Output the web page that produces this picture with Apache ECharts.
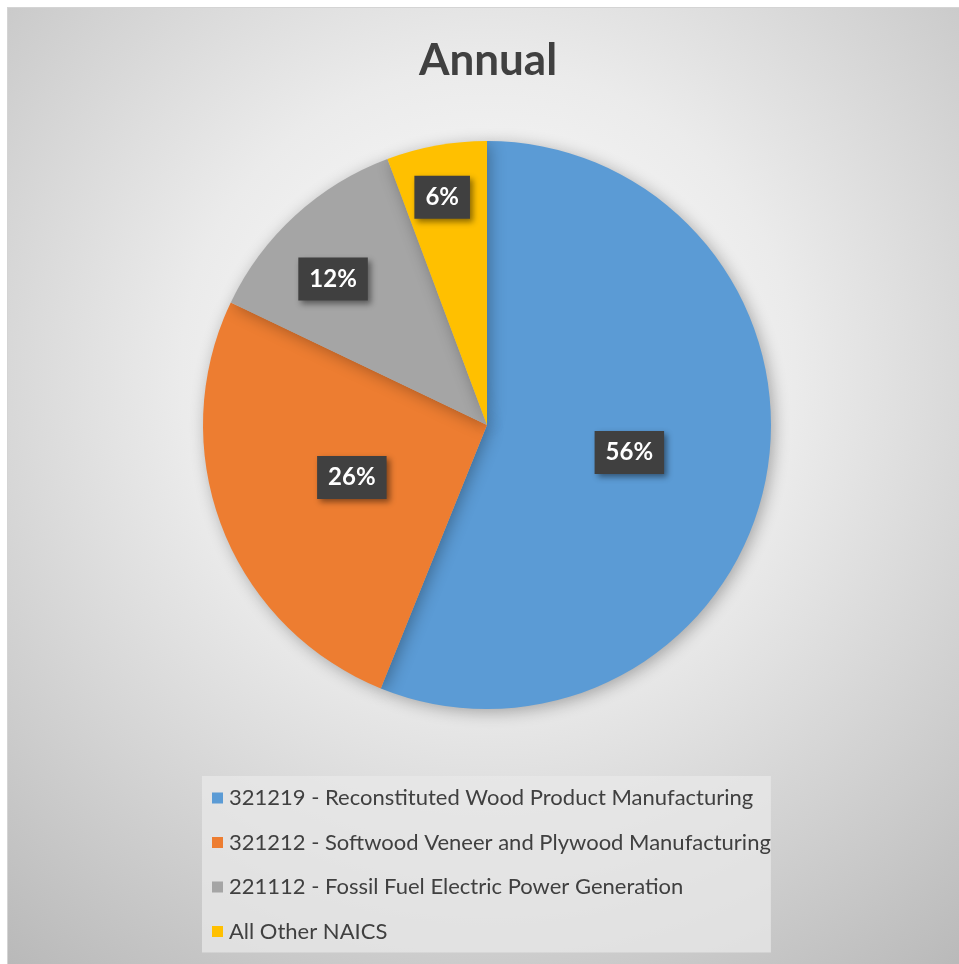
<!DOCTYPE html>
<html>
<head>
<meta charset="utf-8">
<script src="https://cdn.jsdelivr.net/npm/echarts@6/dist/echarts.min.js"></script>
<style>
  html, body { margin: 0; padding: 0; background: #fff; }
  #chart {
    position: absolute;
    left: 7px;
    top: 7px;
    width: 960px;
    height: 965px;
    border-left: 1px solid #d4d4d4;
    border-top: 1px solid #d4d4d4;
  }
</style>
</head>
<body>
<div id="chart"></div>
<script>
const categories = [
  "321219 - Reconstituted Wood Product Manufacturing",
  "321212 - Softwood Veneer and Plywood Manufacturing",
  "221112 - Fossil Fuel Electric Power Generation",
  "All Other NAICS",
];
const shares = [56.1, 26.0, 12.2, 5.7];
const colors = ["#5b9bd5", "#ed7d31", "#a5a5a5", "#ffc000"];
// small slices have their labels pushed outward, like Excel's best fit
const labelOffsets = [null, null, [-56, -39], [-19, -85]];

const chart = echarts.init(document.getElementById("chart"));

const pieData = categories.map((name, i) => {
  const item = { name: name, value: shares[i], itemStyle: { color: colors[i] } };
  if (labelOffsets[i]) {
    item.label = { offset: labelOffsets[i] };
  }
  return item;
});

const option = {
  backgroundColor: new echarts.graphic.RadialGradient(0.5, 0.38, 0.8, [
    { offset: 0, color: "#ffffff" },
    { offset: 0.4, color: "#ebebeb" },
    { offset: 1, color: "#b8b8b8" },
  ]),
  animation: false,
  title: {
    text: "Annual",
    left: "center",
    top: 26,
    textStyle: {
      fontFamily: "Lato",
      fontWeight: "bold",
      fontSize: 44,
      color: "#404040",
    },
  },
  legend: {
    orient: "vertical",
    left: 194,
    top: 768,
    backgroundColor: "rgba(232,232,232,0.75)",
    padding: [11, 0, 10, 10],
    itemWidth: 11,
    itemHeight: 11,
    itemGap: 22.5,
    icon: "rect",
    selectedMode: false,
    textStyle: {
      fontFamily: "Lato",
      fontSize: 22,
      color: "#404040",
      padding: [0, 0, 0, 1],
    },
    data: categories,
  },
  series: [
    {
      type: "pie",
      center: [479, 417],
      radius: 284,
      startAngle: 90,
      clockwise: true,
      data: pieData,
      itemStyle: {
        shadowBlur: 16,
        shadowColor: "rgba(0,0,0,0.3)",
        shadowOffsetX: 3,
        shadowOffsetY: 3,
      },
      label: {
        show: true,
        position: "inside",
        formatter: (p) => Math.round(p.percent) + "%",
        fontFamily: "Lato",
        fontWeight: "bold",
        fontSize: 24,
        color: "#ffffff",
        backgroundColor: "#404040",
        padding: [10, 11, 9, 11],
        shadowBlur: 6,
        shadowColor: "rgba(0,0,0,0.45)",
        shadowOffsetX: 3,
        shadowOffsetY: 3,
      },
      labelLine: { show: false },
      emphasis: { disabled: true },
    },
  ],
};

chart.setOption(option);
</script>
</body>
</html>
